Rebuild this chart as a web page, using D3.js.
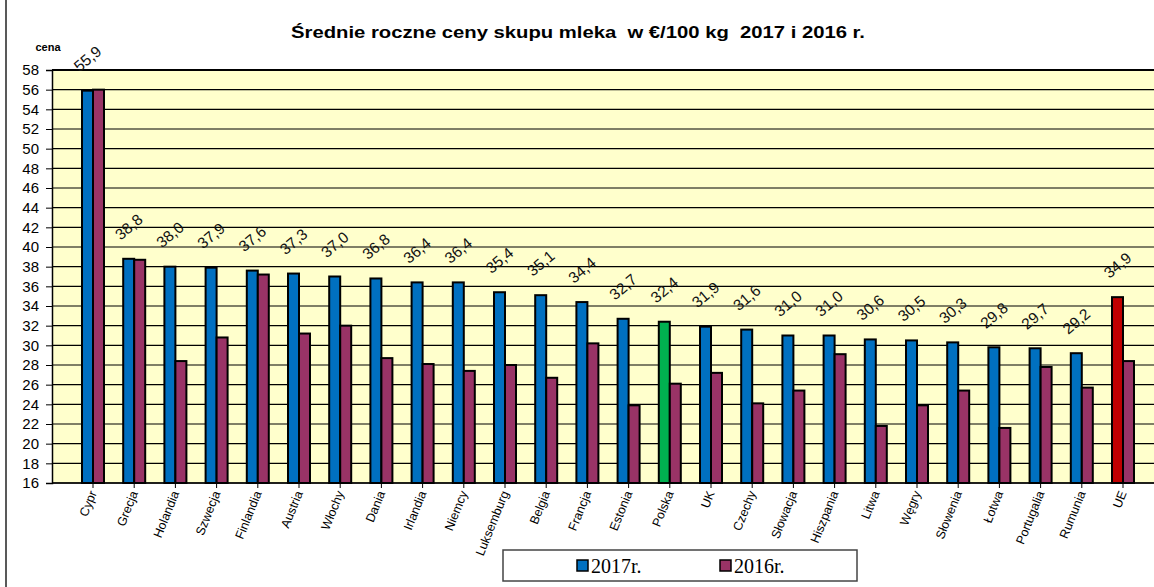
<!DOCTYPE html>
<html>
<head>
<meta charset="utf-8">
<script src="https://cdn.jsdelivr.net/npm/d3@7"></script>
<style>
  html, body { margin:0; padding:0; background:#fff; }
  svg { display:block; font-family: Arial, "Liberation Sans", sans-serif; }
</style>
</head>
<body>
<svg id="chart" width="1154" height="587"></svg>
<script>
// data
const countries = ['Cypr','Grecja','Holandia','Szwecja','Finlandia','Austria','Włochy','Dania','Irlandia','Niemcy',
  'Luksemburg','Belgia','Francja','Estonia','Polska','UK','Czechy','Słowacja','Hiszpania','Litwa','Węgry',
  'Słowenia','Łotwa','Portugalia','Rumunia','UE'];
const v2017 = [55.9,38.8,38.0,37.9,37.6,37.3,37.0,36.8,36.4,36.4,35.4,35.1,34.4,32.7,32.4,31.9,31.6,31.0,31.0,30.6,30.5,30.3,29.8,29.7,29.2,34.9];
const v2016 = [56.0,38.7,28.4,30.8,37.2,31.2,32.0,28.7,28.1,27.4,28.0,26.7,30.2,23.9,26.1,27.2,24.1,25.4,29.1,21.8,23.9,25.4,21.6,27.8,25.7,28.4];
const yTicks = d3.range(16, 59, 2);
const seriesNames = ['2017r.','2016r.'];

const C_BLUE = '#0070c0', C_PLUM = '#993366', C_GREEN = '#00b050', C_RED = '#c00000';

const svg = d3.select('#chart');
const plot = {left:52, top:70, right:1160, bottom:483};

// outer frame (left edge is all that shows)
svg.append('line').attr('x1',6).attr('x2',6).attr('y1',0).attr('y2',587)
  .attr('stroke','#222').attr('stroke-width',1.5);

const step = 41.2;
const x = d3.scaleBand().domain(countries)
  .range([93 - step/2, 93 - step/2 + step*countries.length]);
const y = d3.scaleLinear().domain([16,58]).range([plot.bottom, plot.top]);
const bw = 11;

svg.append('rect').attr('x',plot.left).attr('y',plot.top)
  .attr('width',plot.right-plot.left).attr('height',plot.bottom-plot.top)
  .attr('fill','#ffffcc');

// gridlines
svg.append('g').selectAll('line').data(yTicks).join('line')
  .attr('x1',plot.left).attr('x2',plot.right)
  .attr('y1',d=>y(d)).attr('y2',d=>y(d))
  .attr('stroke','#000').attr('stroke-width',1.2);
svg.append('line').attr('x1',plot.left).attr('x2',plot.right)
  .attr('y1',plot.top).attr('y2',plot.top).attr('stroke','#000').attr('stroke-width',2);

// y axis
const yAxis = svg.append('g').attr('transform',`translate(${plot.left},0)`)
  .call(d3.axisLeft(y).tickValues(yTicks).tickSize(6).tickPadding(7).tickFormat(d3.format('d')));
yAxis.select('.domain').attr('stroke','#000').attr('stroke-width',1.5);
yAxis.selectAll('.tick line').attr('stroke','#000');
yAxis.selectAll('text').attr('font-size',15).attr('fill','#000')
  .attr('font-family','Arial, "Liberation Sans", sans-serif');

// x axis
const xAxis = svg.append('g').attr('transform',`translate(0,${plot.bottom})`)
  .call(d3.axisBottom(x).tickSize(5).tickFormat(''));
xAxis.select('.domain').remove();
xAxis.selectAll('.tick line').attr('stroke','#000');
svg.append('line').attr('x1',plot.left).attr('x2',plot.right)
  .attr('y1',plot.bottom).attr('y2',plot.bottom).attr('stroke','#000').attr('stroke-width',1.5);

svg.append('g').selectAll('text').data(countries).join('text')
  .attr('transform',d=>`translate(${x(d)+x.bandwidth()/2+4},${plot.bottom+10}) rotate(-68)`)
  .attr('text-anchor','end').attr('font-size',12.5).attr('fill','#000')
  .text(d=>d);

// bars
const rows = countries.map((c,i)=>({c, a:v2017[i], b:v2016[i]}));
const g = svg.append('g');
const color17 = d => d.c==='Polska' ? C_GREEN : d.c==='UE' ? C_RED : C_BLUE;
g.selectAll('rect.b17').data(rows).join('rect').attr('class','b17')
  .attr('x',d=>x(d.c)+x.bandwidth()/2-bw).attr('width',bw)
  .attr('y',d=>y(d.a)).attr('height',d=>plot.bottom-y(d.a))
  .attr('fill',color17).attr('stroke','#000').attr('stroke-width',2);
g.selectAll('rect.b16').data(rows).join('rect').attr('class','b16')
  .attr('x',d=>x(d.c)+x.bandwidth()/2).attr('width',bw)
  .attr('y',d=>y(d.b)).attr('height',d=>plot.bottom-y(d.b))
  .attr('fill',C_PLUM).attr('stroke','#000').attr('stroke-width',2);

// value labels (2017)
svg.append('g').selectAll('text').data(rows).join('text')
  .attr('transform',d=>`translate(${x(d.c)+x.bandwidth()/2-bw/2},${y(d.a)-32}) rotate(-40)`)
  .attr('text-anchor','middle').attr('dominant-baseline','central')
  .attr('font-size',15.5).attr('fill','#111')
  .text(d=>d.a.toFixed(1).replace('.',','));

// titles
svg.append('text').attr('x',578).attr('y',38).attr('text-anchor','middle')
  .attr('font-size',17).attr('font-weight','bold').attr('fill','#000')
  .attr('xml:space','preserve')
  .attr('textLength',574).attr('lengthAdjust','spacingAndGlyphs')
  .text('Średnie roczne ceny skupu mleka  w €/100 kg  2017 i 2016 r.');
svg.append('text').attr('x',48).attr('y',51).attr('text-anchor','middle')
  .attr('font-size',11).attr('font-weight','bold').text('cena');

// legend
const lg = svg.append('g');
lg.append('rect').attr('x',503).attr('y',550).attr('width',354).attr('height',31)
  .attr('fill','#fff').attr('stroke','#444').attr('stroke-width',1.5);
const items = lg.selectAll('g').data(seriesNames).join('g')
  .attr('transform',(d,i)=>`translate(${577 + i*143},560)`);
items.append('rect').attr('width',11).attr('height',11)
  .attr('fill',(d,i)=>i ? C_PLUM : C_BLUE).attr('stroke','#000').attr('stroke-width',1.5);
items.append('text').attr('x',14).attr('y',12.5)
  .attr('font-family','"Liberation Serif", "Times New Roman", serif')
  .attr('font-size',20).attr('fill','#000').text(d=>d);
</script>
</body>
</html>
